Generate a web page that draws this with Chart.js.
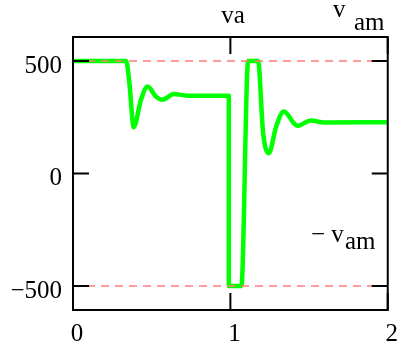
<!DOCTYPE html>
<html>
<head>
<meta charset="utf-8">
<script src="https://cdn.jsdelivr.net/npm/chart.js@4/dist/chart.umd.min.js"></script>
<style>
  html, body { margin: 0; padding: 0; background: #fff; }
  canvas { display: block; }
</style>
</head>
<body>
<canvas id="vaChart" width="403" height="345"></canvas>
<script>
// time axis samples and the va trace
const times = [0, 0.338, 0.358, 0.386, 0.432, 0.474, 0.526, 0.568, 0.642, 0.726, 0.99,
               0.99, 1.07, 1.113, 1.176, 1.208, 1.244, 1.291, 1.340, 1.407, 1.428, 1.511, 1.596, 2];
const va = [500, 500, 404, 206, 328, 387, 343, 328, 353, 346, 346,
            -500, -500, 500, 500, 181, 90, 209, 276, 221, 212, 236, 227, 228];

// limit lines +vam / -vam
const limitTimes = [0, 2];
const vam = 500;

const xTicks = [0, 1, 2];
const yTicks = [-500, 0, 500];

const serif = 'Liberation Serif';

const vaPoints = times.map((t, i) => ({ x: t, y: va[i] }));
const upper = limitTimes.map(t => ({ x: t, y: vam }));
const lower = limitTimes.map(t => ({ x: t, y: -vam }));

// box frame plus inward tick marks
const frame = {
  id: 'frame',
  afterDatasetsDraw(chart) {
    const { ctx, chartArea: a, scales: { x, y } } = chart;
    ctx.save();
    ctx.strokeStyle = '#000';
    ctx.lineWidth = 2;
    ctx.strokeRect(a.left, a.top, a.right - a.left, a.bottom - a.top);
    ctx.beginPath();
    xTicks.forEach(v => {
      const px = x.getPixelForValue(v);
      ctx.moveTo(px, a.bottom); ctx.lineTo(px, a.bottom - 17);
      ctx.moveTo(px, a.top); ctx.lineTo(px, a.top + 17);
    });
    yTicks.forEach(v => {
      const py = y.getPixelForValue(v);
      ctx.moveTo(a.left, py); ctx.lineTo(a.left + 16, py);
      ctx.moveTo(a.right, py); ctx.lineTo(a.right - 16, py);
    });
    ctx.stroke();
    ctx.restore();
  }
};

// trace names: va, vam and -vam
const traceLabels = {
  id: 'traceLabels',
  afterDraw(chart) {
    const ctx = chart.ctx;
    ctx.save();
    ctx.fillStyle = '#000';
    ctx.textBaseline = 'alphabetic';
    ctx.font = `25px "${serif}"`;
    ctx.textAlign = 'center';
    ctx.fillText('va', 233, 23);
    ctx.textAlign = 'left';
    ctx.fillText('v', 333, 17);
    ctx.fillText('am', 354, 30);
    ctx.fillText('\u2212 v', 311, 242);
    ctx.fillText('am', 345, 249);
    ctx.restore();
  }
};

new Chart(document.getElementById('vaChart'), {
  type: 'line',
  data: {
    datasets: [
      {
        label: 'vam',
        data: upper,
        borderColor: '#ff7b7b',
        borderWidth: 1.5,
        borderDash: [8, 6],
        pointRadius: 0,
        order: 0
      },
      {
        label: '-vam',
        data: lower,
        borderColor: '#ff7b7b',
        borderWidth: 1.5,
        borderDash: [8, 6],
        pointRadius: 0,
        order: 0
      },
      {
        label: 'va',
        data: vaPoints,
        borderColor: '#00ff00',
        borderWidth: 4.5,
        pointRadius: 0,
        cubicInterpolationMode: 'monotone',
        borderJoinStyle: 'round',
        order: 1
      }
    ]
  },
  options: {
    responsive: false,
    animation: false,
    devicePixelRatio: 1,
    layout: { padding: { top: 37, right: 12, left: 0, bottom: 0 } },
    plugins: {
      legend: { display: false },
      tooltip: { enabled: false }
    },
    scales: {
      x: {
        type: 'linear',
        min: 0,
        max: 2,
        afterBuildTicks: s => { s.ticks = xTicks.map(v => ({ value: v })); },
        afterFit: s => { s.height = 35; },
        grid: { display: false, drawTicks: false },
        border: { display: false },
        ticks: {
          color: '#000',
          font: { family: serif, size: 25 },
          padding: 9,
          labelOffset: 4,
          maxRotation: 0
        }
      },
      y: {
        type: 'linear',
        min: -607,
        max: 607,
        afterBuildTicks: s => { s.ticks = yTicks.map(v => ({ value: v })); },
        afterFit: s => { s.width = 73; },
        grid: { display: false, drawTicks: false },
        border: { display: false },
        ticks: {
          color: '#000',
          font: { family: serif, size: 25 },
          padding: 11,
          labelOffset: 5,
          callback: v => (v < 0 ? '\u2212' + Math.abs(v) : String(v))
        }
      }
    }
  },
  plugins: [frame, traceLabels]
});
</script>
</body>
</html>
